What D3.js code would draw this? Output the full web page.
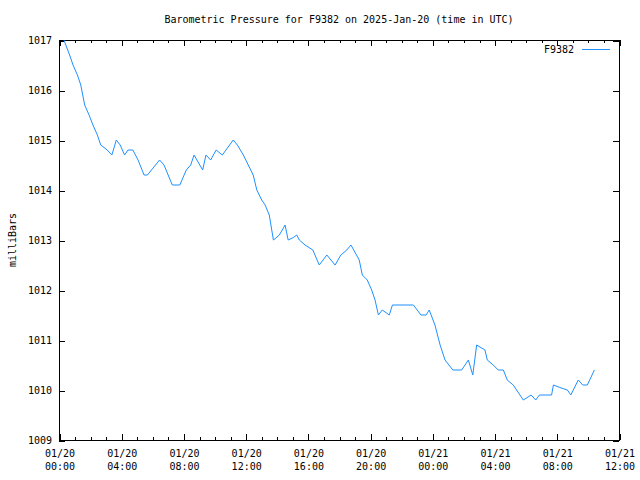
<!DOCTYPE html>
<html>
<head>
<meta charset="utf-8">
<script src="https://cdn.jsdelivr.net/npm/d3@7"></script>
<style>
  body { margin: 0; background: #fff; }
  svg { display: block; font-family: "DejaVu Sans Mono", "Liberation Mono", monospace; font-size: 10px; }
</style>
</head>
<body>
<div id="chart"></div>
<script>
// readings, time in UTC
var times = [
  "2025-01-20 00:19", "2025-01-20 00:41", "2025-01-20 00:54", "2025-01-20 01:11", "2025-01-20 01:24",
  "2025-01-20 01:39", "2025-01-20 01:56", "2025-01-20 02:11", "2025-01-20 02:28", "2025-01-20 02:41",
  "2025-01-20 03:06", "2025-01-20 03:24", "2025-01-20 03:41", "2025-01-20 03:56", "2025-01-20 04:13",
  "2025-01-20 04:26", "2025-01-20 04:45", "2025-01-20 05:05", "2025-01-20 05:28", "2025-01-20 05:41",
  "2025-01-20 06:28", "2025-01-20 06:45", "2025-01-20 07:17", "2025-01-20 07:46", "2025-01-20 08:11",
  "2025-01-20 08:28", "2025-01-20 08:41", "2025-01-20 09:14", "2025-01-20 09:27", "2025-01-20 09:45",
  "2025-01-20 10:06", "2025-01-20 10:30", "2025-01-20 11:12", "2025-01-20 11:28", "2025-01-20 11:51",
  "2025-01-20 12:10", "2025-01-20 12:29", "2025-01-20 12:43", "2025-01-20 13:02", "2025-01-20 13:15",
  "2025-01-20 13:31", "2025-01-20 13:47", "2025-01-20 14:10", "2025-01-20 14:32", "2025-01-20 14:44",
  "2025-01-20 15:04", "2025-01-20 15:17", "2025-01-20 15:27", "2025-01-20 15:49", "2025-01-20 16:19",
  "2025-01-20 16:44", "2025-01-20 17:13", "2025-01-20 17:45", "2025-01-20 18:07", "2025-01-20 18:30",
  "2025-01-20 18:46", "2025-01-20 19:18", "2025-01-20 19:30", "2025-01-20 19:49", "2025-01-20 20:06",
  "2025-01-20 20:19", "2025-01-20 20:32", "2025-01-20 20:47", "2025-01-20 21:14", "2025-01-20 21:26",
  "2025-01-20 22:47", "2025-01-20 23:16", "2025-01-20 23:36", "2025-01-20 23:48", "2025-01-21 00:10",
  "2025-01-21 00:30", "2025-01-21 00:49", "2025-01-21 01:19", "2025-01-21 01:53", "2025-01-21 02:19",
  "2025-01-21 02:36", "2025-01-21 02:51", "2025-01-21 03:23", "2025-01-21 03:32", "2025-01-21 03:55",
  "2025-01-21 04:14", "2025-01-21 04:34", "2025-01-21 04:49", "2025-01-21 05:12", "2025-01-21 05:51",
  "2025-01-21 06:21", "2025-01-21 06:39", "2025-01-21 06:53", "2025-01-21 07:40", "2025-01-21 07:47",
  "2025-01-21 08:12", "2025-01-21 08:41", "2025-01-21 08:54", "2025-01-21 09:23", "2025-01-21 09:40",
  "2025-01-21 09:58", "2025-01-21 10:25"
];
var pressure = [
  1017.0, 1016.7, 1016.5, 1016.3, 1016.1,
  1015.7, 1015.5, 1015.3, 1015.1, 1014.9,
  1014.8, 1014.7, 1015.0, 1014.9, 1014.7,
  1014.8, 1014.8, 1014.6, 1014.3, 1014.3,
  1014.6, 1014.5, 1014.1, 1014.1, 1014.4,
  1014.5, 1014.7, 1014.4, 1014.7, 1014.6,
  1014.8, 1014.7, 1015.0, 1014.9, 1014.7,
  1014.5, 1014.3, 1014.0, 1013.8, 1013.7,
  1013.5, 1013.0, 1013.1, 1013.3, 1013.0,
  1013.05, 1013.1, 1013.0, 1012.9, 1012.8,
  1012.5, 1012.7, 1012.5, 1012.7, 1012.8,
  1012.9, 1012.6, 1012.3, 1012.2, 1012.0,
  1011.8, 1011.5, 1011.6, 1011.5, 1011.7,
  1011.7, 1011.5, 1011.5, 1011.6, 1011.3,
  1010.9, 1010.6, 1010.4, 1010.4, 1010.6,
  1010.3, 1010.9, 1010.8, 1010.6, 1010.5,
  1010.4, 1010.4, 1010.2, 1010.1, 1009.8,
  1009.9, 1009.8, 1009.9, 1009.9, 1010.1,
  1010.05, 1010.0, 1009.9, 1010.2, 1010.1,
  1010.1, 1010.4
];
var yTicks = [1009, 1010, 1011, 1012, 1013, 1014, 1015, 1016, 1017];
var timeRange = ["2025-01-20 00:00", "2025-01-21 12:00"];
var seriesName = "F9382";
var title = "Barometric Pressure for F9382 on 2025-Jan-20 (time in UTC)";
var yLabel = "milliBars";

var width = 640, height = 480;
var margin = {top: 40, right: 21, bottom: 40, left: 59};
var parse = d3.utcParse("%Y-%m-%d %H:%M");
var data = times.map((t, i) => ({t: parse(t), v: pressure[i]}));

var x = d3.scaleUtc()
  .domain(timeRange.map(parse))
  .range([margin.left, width - margin.right]);

var y = d3.scaleLinear()
  .domain([1009, 1017])
  .range([height - margin.bottom, margin.top]);

var svg = d3.select("#chart").append("svg")
  .attr("width", width)
  .attr("height", height);

// frame
svg.append("rect")
  .attr("x", margin.left + 0.5)
  .attr("y", margin.top + 0.5)
  .attr("width", x.range()[1] - x.range()[0])
  .attr("height", y.range()[0] - y.range()[1])
  .attr("fill", "none")
  .attr("stroke", "#000")
  .attr("shape-rendering", "crispEdges");

var fmtDay = d3.utcFormat("%m/%d"), fmtHour = d3.utcFormat("%H:%M");

// minor ticks every hour, bottom and top
svg.append("g")
  .attr("transform", `translate(0.5,${y.range()[0]})`)
  .call(d3.axisBottom(x).ticks(d3.utcHour.every(1)).tickSize(-3).tickSizeOuter(0).tickFormat(""));
svg.append("g")
  .attr("transform", `translate(0.5,${y.range()[1]})`)
  .call(d3.axisTop(x).ticks(d3.utcHour.every(1)).tickSize(-3).tickSizeOuter(0).tickFormat(""));

// major ticks every 4 hours
var xAxis = svg.append("g")
  .attr("transform", `translate(0.5,${y.range()[0]})`)
  .call(d3.axisBottom(x).ticks(d3.utcHour.every(4)).tickSize(-6).tickSizeOuter(0).tickPadding(17));
svg.append("g")
  .attr("transform", `translate(0.5,${y.range()[1]})`)
  .call(d3.axisTop(x).ticks(d3.utcHour.every(4)).tickSize(-6).tickSizeOuter(0).tickFormat(""));

xAxis.selectAll(".tick text")
  .attr("dy", null)
  .text(null)
  .each(function (d) {
    var t = d3.select(this);
    t.append("tspan").attr("x", 0).attr("dy", 0).text(fmtDay(d));
    t.append("tspan").attr("x", 0).attr("dy", 13).text(fmtHour(d));
  });

svg.append("g")
  .attr("transform", `translate(${margin.left},0.5)`)
  .call(d3.axisLeft(y).tickValues(yTicks).tickSize(-6).tickSizeOuter(0).tickPadding(7).tickFormat(d3.format("d")));
svg.append("g")
  .attr("transform", `translate(${x.range()[1]},0.5)`)
  .call(d3.axisRight(y).tickValues(yTicks).tickSize(-6).tickSizeOuter(0).tickFormat(""));

svg.selectAll(".domain").remove();
svg.selectAll(".tick line").attr("shape-rendering", "crispEdges");
svg.selectAll(".tick text")
  .attr("fill", "#000")
  .style("font-family", "DejaVu Sans Mono, monospace")
  .style("font-size", "10px");

// series
var line = d3.line()
  .x(d => x(d.t))
  .y(d => y(d.v));

svg.append("path")
  .datum(data)
  .attr("fill", "none")
  .attr("stroke", "#1e90ff")
  .attr("stroke-width", 1)
  .attr("d", line);

// title and labels
svg.append("text")
  .attr("x", (x.range()[0] + x.range()[1]) / 2)
  .attr("y", 23)
  .attr("text-anchor", "middle")
  .text(title);

svg.append("text")
  .attr("transform", `translate(16,${(y.range()[0] + y.range()[1]) / 2}) rotate(-90)`)
  .attr("text-anchor", "middle")
  .text(yLabel);

// legend
svg.append("text")
  .attr("x", 574)
  .attr("y", 53)
  .attr("text-anchor", "end")
  .text(seriesName);
svg.append("line")
  .attr("x1", 582).attr("x2", 610)
  .attr("y1", 49.5).attr("y2", 49.5)
  .attr("stroke", "#1e90ff")
  .attr("shape-rendering", "crispEdges");
</script>
</body>
</html>
